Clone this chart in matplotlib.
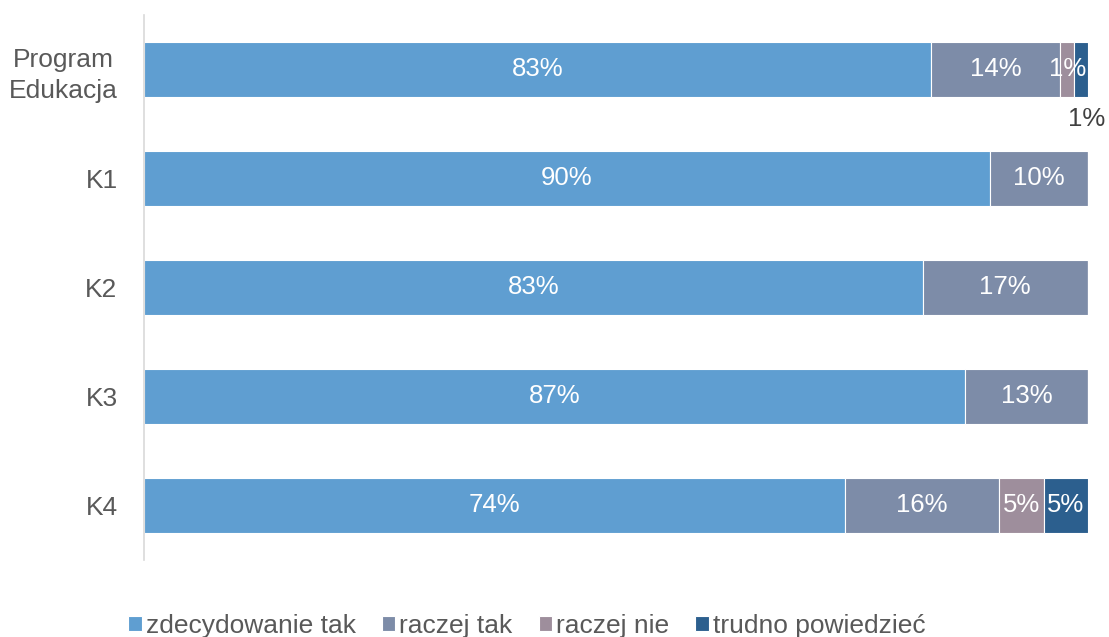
import numpy as np
import matplotlib.pyplot as plt

plt.rcParams['font.family'] = ['Liberation Sans', 'DejaVu Sans']

# ==========================
# Data
# ==========================

categories = ["Program\nEdukacja", "K1", "K2", "K3", "K4"]
series_names = ["zdecydowanie tak", "raczej tak", "raczej nie", "trudno powiedzieć"]

zdecydowanie_tak = [83.4, 89.6, 82.5, 87.0, 74.3]
raczej_tak = [13.7, 10.4, 17.5, 13.0, 16.3]
raczej_nie = [1.5, 0, 0, 0, 4.8]
trudno = [1.4, 0, 0, 0, 4.6]

labels_tak = ["83%", "90%", "83%", "87%", "74%"]
labels_raczej_tak = ["14%", "10%", "17%", "13%", "16%"]
labels_raczej_nie = ["1%", "", "", "", "5%"]
labels_trudno = ["1%", "", "", "", "5%"]

colors = ["#5F9ED1", "#7D8CA8", "#9E8E9C", "#2C5F8E"]

# ==========================
# Plot
# ==========================

fig = plt.figure(figsize=(11.09, 6.37), dpi=100)
ax = fig.add_axes([0.1298, 0.121, 0.851, 0.8555])

series = [zdecydowanie_tak, raczej_tak, raczej_nie, trudno]
labels = [labels_tak, labels_raczej_tak, labels_raczej_nie, labels_trudno]

y = np.arange(len(categories))
left = np.zeros(len(categories))

for i, vals in enumerate(series):
    vals = np.array(vals)
    bars = ax.barh(y, vals, left=left, height=0.5, color=colors[i],
                   edgecolor="white", linewidth=0.8, label=series_names[i])
    for j, b in enumerate(bars):
        txt = labels[i][j]
        if not txt:
            continue
        cx = left[j] + vals[j] / 2
        if i == 3 and j == 0:
            # small slice: label placed outside, below the bar
            ax.text(cx + 0.6, y[j] + 0.45, txt, ha="center", va="center",
                    fontsize=18.5, color="#404040", clip_on=False)
        else:
            ax.text(cx, y[j], txt, ha="center", va="center",
                    fontsize=18.5, color="white")
    left = left + vals

ax.set_xlim(0, 100)
ax.set_ylim(4.5, -0.5)
ax.set_yticks(y)
ax.set_yticklabels(categories, fontsize=19, color="#595959",
                   multialignment="center", linespacing=1.35)
ax.tick_params(axis="y", length=0, pad=19)
ax.set_xticks([])

for side in ["top", "right", "bottom"]:
    ax.spines[side].set_visible(False)
ax.spines["left"].set_color("#D9D9D9")
ax.spines["left"].set_linewidth(1.2)

leg = fig.legend(loc="center", bbox_to_anchor=(0.475, 0.018), ncol=4,
                 frameon=False, fontsize=19, handlelength=0.5,
                 handleheight=0.5, handletextpad=0.15, columnspacing=1.0)
for t in leg.get_texts():
    t.set_color("#595959")

plt.savefig("out.png", dpi=100)
